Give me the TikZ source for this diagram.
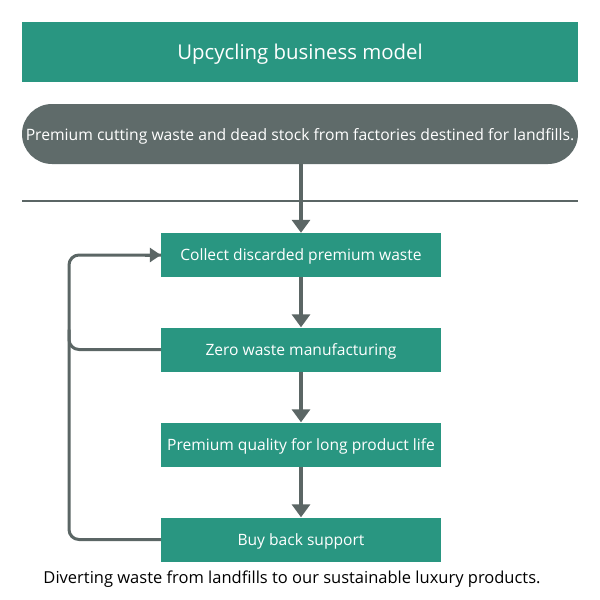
\documentclass[tikz,border=0pt]{standalone}
\usepackage{fontspec}
\setmainfont{Open Sans}
\usetikzlibrary{arrows.meta}
\definecolor{teal1}{RGB}{41,150,129}
\definecolor{pillgray}{RGB}{95,107,106}
\definecolor{arrgray}{RGB}{91,102,101}
\begin{document}
\begin{tikzpicture}[x=1pt,y=-1pt,
  stepbox/.style={fill=teal1,text=white,minimum width=280pt,minimum height=44pt,inner sep=0pt,text depth=0pt,font=\fontsize{15.6}{18}\selectfont},
  flow/.style={draw=arrgray,line width=4pt,-{Triangle[width=18pt,length=13pt]}},
  loopline/.style={draw=arrgray,line width=3pt,rounded corners=10pt}]
\useasboundingbox (0,0) rectangle (600,600);
\fill[white] (0,0) rectangle (600,600);
\node[fill=teal1,text=white,minimum width=556pt,minimum height=60pt,inner sep=0pt,text depth=0pt,font=\fontsize{20.4}{24}\selectfont] (title) at (300,52) {Upcycling business model};
\node[fill=pillgray,text=white,rounded corners=30pt,minimum width=556pt,minimum height=60pt,inner sep=0pt,text depth=0pt,font=\fontsize{15.7}{18}\selectfont] (pill) at (300,134) {Premium cutting waste and dead stock from factories destined for landfills.};
\coordinate (hl) at (22,201);
\coordinate (hr) at (578,201);
\draw[draw=arrgray,line width=2pt] (hl) -- (hr);
\node[stepbox] (b1) at (301,255) {Collect discarded premium waste};
\node[stepbox] (b2) at (301,349.5) {Zero waste manufacturing};
\node[stepbox] (b3) at (301,444.5) {Premium quality for long product life};
\node[stepbox] (b4) at (301,539.5) {Buy back support};
\draw[flow] (pill.south -| b1.north) -- (b1.north);
\draw[flow] (b1) -- (b2);
\draw[flow] (b2) -- (b3);
\draw[flow] (b3) -- (b4);
\coordinate (lx) at (69,0);
\draw[loopline] (b4.west) -- (b4.west -| lx) -- (b1.west -| lx) -- (b1.west);
\draw[loopline] (b2.west) -- (b2.west -| lx) -- ++(0,-20);
\draw[arrgray,line width=3pt,-{Triangle[width=14pt,length=11pt]}] ([xshift=-16pt]b1.west) -- (b1.west);
\node[font=\fontsize{16.5}{19}\selectfont,text=black] (foot) at (292,579) {Diverting waste from landfills to our sustainable luxury products.};
\end{tikzpicture}
\end{document}
